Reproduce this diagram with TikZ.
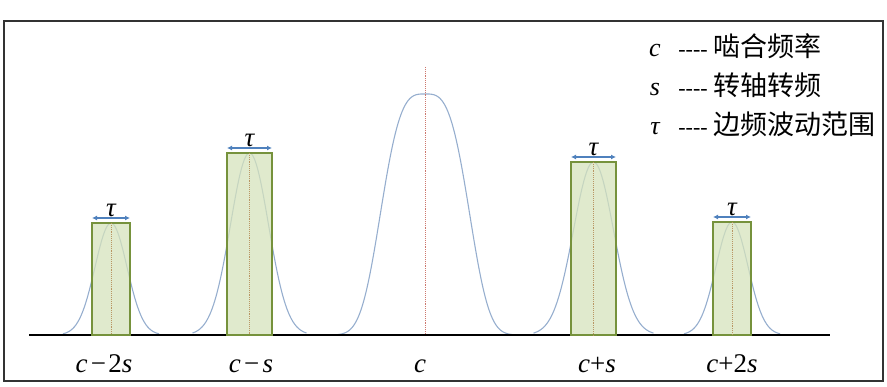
\documentclass[tikz,border=0pt]{standalone}
\usepackage{fontspec}
\setmainfont{Liberation Serif}
\usepackage{tikz}
\usetikzlibrary{arrows.meta,positioning,calc}
\newfontfamily\cjk{Noto Sans CJK SC}
\definecolor{bandfill}{RGB}{214,227,188}
\definecolor{bandedge}{RGB}{118,146,60}
\definecolor{bellblue}{RGB}{150,174,206}
\definecolor{taublue}{RGB}{79,129,189}
\definecolor{midbrown}{RGB}{185,150,100}
\definecolor{midred}{RGB}{205,120,110}

\begin{document}
\begin{tikzpicture}[x=1pt,y=-1pt,>={Latex[length=5pt,width=5pt]},
  band/.style={draw=bandedge,line width=1.6pt,fill=bandfill,fill opacity=0.75,
    anchor=south,inner sep=0pt,outer sep=0pt},
  bell/.style={bellblue,line width=1.1pt,smooth,samples=60},
  midline/.style={midbrown,densely dotted,line width=0.9pt},
  tauarrow/.style={<->,taublue,line width=1.2pt},
  taulabel/.style={text=black,font=\itshape\fontsize{27}{27}\selectfont,inner sep=1pt},
  flabel/.style={anchor=base,font=\fontsize{27}{27}\selectfont},
  sym/.style={anchor=base,font=\itshape\fontsize{26}{26}\selectfont,inner sep=0pt},
  dashtext/.style={anchor=base,font=\fontsize{22}{22}\selectfont,inner sep=0pt},
  legtext/.style={anchor=base west,font=\cjk\fontsize{27}{27}\selectfont,inner sep=0pt}]
  \useasboundingbox (0,0) rectangle (887,387);
  \draw[line width=1.8pt,black!80] (4,21) rectangle (883,381);

  % main mesh peak
  \draw[bell] plot[domain=338:512,samples=120] (\x,{335-241*exp(-(abs(\x-425)/50)^3.3)});
  \coordinate (ctop) at (425,67);
  \coordinate (cbase) at (425,335);
  \draw[midred,densely dotted,line width=0.9pt] (ctop) -- (cbase);

  % side peaks
  \foreach \c/\h/\s in {111/112/16, 249.5/182/19, 593.5/173/20, 732/113/16}
    \draw[bell] plot[domain=\c-3*\s:\c+3*\s] (\x,{335-\h*exp(-0.5*((\x-\c)/\s)*((\x-\c)/\s))});
  \draw[line width=2.6pt] (29,335) -- (830,335);
  \foreach \i/\c/\h/\w in {1/111/112/38, 2/249.5/182/45, 3/593.5/173/45, 4/732/113/38}{
    \node[band,minimum width=\w pt,minimum height=\h pt] (b\i) at (\c,335) {};
    \draw[midline] (b\i.north) -- (b\i.south);
    \draw[tauarrow] ([yshift=5pt]b\i.north west) -- ([yshift=5pt]b\i.north east)
      node[midway,above,taulabel] (t\i) {τ};
  }

  % frequency labels
  \node[flabel] (l1) at (104,373) {\textit{c}\hspace{0.12em}−\hspace{0.08em}2\textit{s}};
  \node[flabel] (l2) at (251,373) {\textit{c}\hspace{0.12em}−\hspace{0.12em}\textit{s}};
  \node[flabel] (l3) at (420,373) {\textit{c}};
  \node[flabel] (l4) at (597,373) {\textit{c}+\textit{s}};
  \node[flabel] (l5) at (732,373) {\textit{c}+2\textit{s}};

  % legend
  \node[sym] (k1) at (655,57) {c};
  \node[dashtext] (d1) at (693,57) {-{}-{}-{}-};
  \node[legtext] (e1) at (713,57) {啮合频率};
  \node[sym] (k2) at (655,96) {s};
  \node[dashtext] (d2) at (693,96) {-{}-{}-{}-};
  \node[legtext] (e2) at (713,96) {转轴转频};
  \node[sym] (k3) at (655,135) {τ};
  \node[dashtext] (d3) at (693,135) {-{}-{}-{}-};
  \node[legtext] (e3) at (713,135) {边频波动范围};
\end{tikzpicture}
\end{document}
